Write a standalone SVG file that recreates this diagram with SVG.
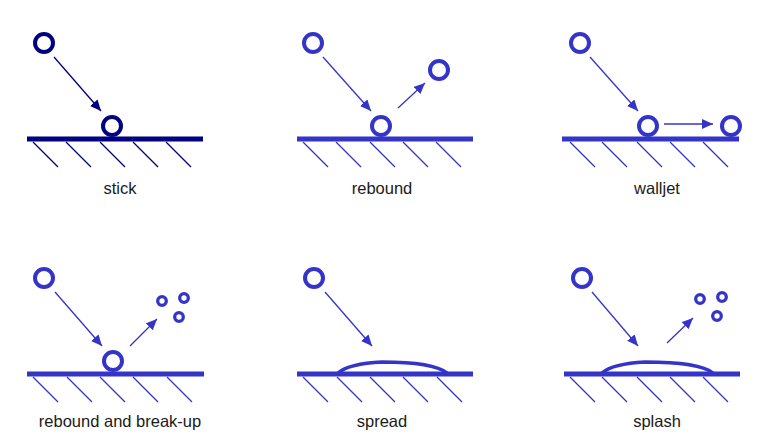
<svg xmlns="http://www.w3.org/2000/svg" width="776" height="443" viewBox="0 0 776 443">
<style>
.bg{fill:#ffffff}
.drop{fill:none;stroke-width:4}
.small{fill:none;stroke-width:3.3}
.ground{stroke-width:5}
.hatch{stroke-width:1.3}
.arrow{stroke-width:1.3;fill:none}
.film{fill:#ffffff;stroke-width:3.5}
.navy{stroke:#000080}
.blue{stroke:#3434c8}
text{font-family:"Liberation Sans",Arial,sans-serif;font-size:16.5px;fill:#1a1a1a;text-anchor:middle}
</style>
<defs>
<marker id="ahN" markerUnits="userSpaceOnUse" markerWidth="12" markerHeight="10" refX="11" refY="5" orient="auto"><path d="M0,0 L11,5 L0,10 Z" fill="#000080"/></marker>
<marker id="ahB" markerUnits="userSpaceOnUse" markerWidth="12" markerHeight="10" refX="11" refY="5" orient="auto"><path d="M0,0 L11,5 L0,10 Z" fill="#3434c8"/></marker>
</defs>
<rect class="bg" width="776" height="443"/>

<g id="stick">
<circle class="drop navy" cx="44" cy="43" r="9"/>
<circle class="drop navy" cx="112" cy="126" r="9"/>
<line class="ground navy" x1="27" y1="139" x2="203" y2="139"/>
<g class="hatch navy"><line x1="33" y1="142" x2="58" y2="167"/><line x1="66" y1="142" x2="91" y2="167"/><line x1="100" y1="142" x2="125" y2="167"/><line x1="133" y1="142" x2="158" y2="167"/><line x1="166" y1="142" x2="191" y2="167"/></g>
<text x="120" y="194">stick</text>
</g>

<g id="rebound">
<circle class="drop blue" cx="313" cy="43" r="9"/>
<circle class="drop blue" cx="381" cy="126" r="9"/>
<circle class="drop blue" cx="439" cy="70" r="9"/>
<line class="ground blue" x1="297" y1="139" x2="473" y2="139"/>
<g class="hatch blue"><line x1="303" y1="142" x2="328" y2="167"/><line x1="336" y1="142" x2="361" y2="167"/><line x1="370" y1="142" x2="395" y2="167"/><line x1="403" y1="142" x2="428" y2="167"/><line x1="436" y1="142" x2="461" y2="167"/></g>
<text x="382" y="194">rebound</text>
</g>

<g id="walljet">
<circle class="drop blue" cx="580" cy="43" r="9"/>
<circle class="drop blue" cx="648" cy="126" r="9"/>
<circle class="drop blue" cx="731" cy="126" r="9"/>
<line class="ground blue" x1="562" y1="139" x2="739" y2="139"/>
<g class="hatch blue"><line x1="570" y1="142" x2="595" y2="167"/><line x1="602" y1="142" x2="627" y2="167"/><line x1="637" y1="142" x2="662" y2="167"/><line x1="670" y1="142" x2="695" y2="167"/><line x1="703" y1="142" x2="728" y2="167"/></g>
<text x="657" y="194">walljet</text>
</g>

<g id="breakup">
<circle class="drop blue" cx="44" cy="278" r="9"/>
<circle class="drop blue" cx="113" cy="361" r="9"/>
<circle class="small blue" cx="162" cy="301" r="4.3"/>
<circle class="small blue" cx="184" cy="298" r="4.3"/>
<circle class="small blue" cx="179" cy="317" r="4.3"/>
<line class="ground blue" x1="27" y1="374" x2="204" y2="374"/>
<g class="hatch blue"><line x1="33" y1="377" x2="58" y2="402"/><line x1="67" y1="377" x2="92" y2="402"/><line x1="100" y1="377" x2="125" y2="402"/><line x1="133" y1="377" x2="158" y2="402"/><line x1="167" y1="377" x2="192" y2="402"/></g>
<text x="120" y="427">rebound and break-up</text>
</g>

<g id="spread">
<circle class="drop blue" cx="314" cy="278" r="9"/>
<path class="film blue" d="M338,373 C346,366 360,363 382,362 C410,362 436,364 447,373"/>
<line class="ground blue" x1="297" y1="374" x2="473" y2="374"/>
<g class="hatch blue"><line x1="303" y1="377" x2="328" y2="402"/><line x1="337" y1="377" x2="362" y2="402"/><line x1="370" y1="377" x2="395" y2="402"/><line x1="403" y1="377" x2="428" y2="402"/><line x1="437" y1="377" x2="462" y2="402"/></g>
<text x="382" y="427">spread</text>
</g>

<g id="splash">
<circle class="drop blue" cx="582" cy="278" r="9"/>
<circle class="small blue" cx="700" cy="299" r="4.3"/>
<circle class="small blue" cx="722" cy="297" r="4.3"/>
<circle class="small blue" cx="717" cy="316" r="4.3"/>
<path class="film blue" d="M602,373 C610,366 625,363 645,362 C675,362 702,364 713,373"/>
<line class="ground blue" x1="564" y1="374" x2="740" y2="374"/>
<g class="hatch blue"><line x1="570" y1="377" x2="595" y2="402"/><line x1="602" y1="377" x2="627" y2="402"/><line x1="637" y1="377" x2="662" y2="402"/><line x1="670" y1="377" x2="695" y2="402"/><line x1="703" y1="377" x2="728" y2="402"/></g>
<text x="657" y="427">splash</text>
</g>

<g id="connectors">
<line class="arrow navy" x1="54" y1="57" x2="101" y2="111" marker-end="url(#ahN)"/>
<line class="arrow blue" x1="323" y1="57" x2="371" y2="111" marker-end="url(#ahB)"/>
<line class="arrow blue" x1="398" y1="108" x2="425" y2="83" marker-end="url(#ahB)"/>
<line class="arrow blue" x1="590" y1="57" x2="638" y2="111" marker-end="url(#ahB)"/>
<line class="arrow blue" x1="664" y1="124" x2="713" y2="124" marker-end="url(#ahB)"/>
<line class="arrow blue" x1="55" y1="292" x2="102" y2="346" marker-end="url(#ahB)"/>
<line class="arrow blue" x1="130" y1="346" x2="157" y2="319" marker-end="url(#ahB)"/>
<line class="arrow blue" x1="325" y1="292" x2="372" y2="346" marker-end="url(#ahB)"/>
<line class="arrow blue" x1="592" y1="292" x2="638" y2="346" marker-end="url(#ahB)"/>
<line class="arrow blue" x1="667" y1="343" x2="693" y2="318" marker-end="url(#ahB)"/>
</g>
</svg>
